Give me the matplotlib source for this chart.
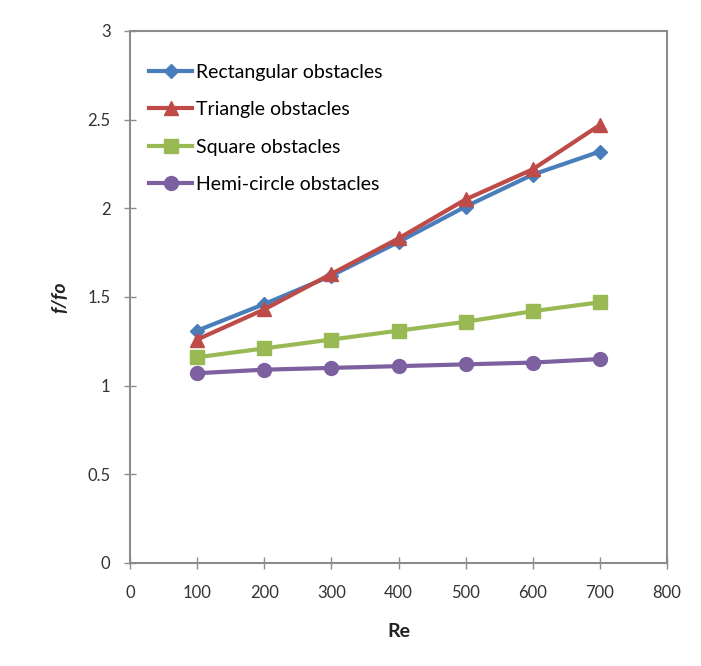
import matplotlib.pyplot as plt

# friction factor ratio vs Reynolds number for each obstacle shape
re = [100, 200, 300, 400, 500, 600, 700]
rect = [1.31, 1.46, 1.62, 1.81, 2.01, 2.19, 2.32]
triangle = [1.26, 1.43, 1.63, 1.83, 2.05, 2.22, 2.47]
square = [1.16, 1.21, 1.26, 1.31, 1.36, 1.42, 1.47]
hemi = [1.07, 1.09, 1.10, 1.11, 1.12, 1.13, 1.15]

labels = ['Rectangular obstacles', 'Triangle obstacles',
          'Square obstacles', 'Hemi-circle obstacles']
xticks = [0, 100, 200, 300, 400, 500, 600, 700, 800]
yticks = [0, 0.5, 1, 1.5, 2, 2.5, 3]

plt.rcParams['font.family'] = ['Lato', 'DejaVu Sans']

fig = plt.figure(figsize=(7.01, 6.66), dpi=100)
ax = fig.add_axes([0.1855, 0.1547, 0.766, 0.7988])

ax.plot(re, rect, color='#4A7EBB', lw=3, marker='D', ms=7, label=labels[0])
ax.plot(re, triangle, color='#BE4B48', lw=3, marker='^', ms=10, label=labels[1])
ax.plot(re, square, color='#98B954', lw=3, marker='s', ms=10, label=labels[2])
ax.plot(re, hemi, color='#7D60A0', lw=3, marker='o', ms=10, label=labels[3])

ax.set_xlim(0, 800)
ax.set_ylim(0, 3)
ax.set_xticks(xticks)
ax.set_yticks(yticks)
ax.set_yticklabels(['0', '0.5', '1', '1.5', '2', '2.5', '3'])

for s in ax.spines.values():
    s.set_color('#8c8c8c')
    s.set_linewidth(1.5)
ax.tick_params(colors='#8c8c8c', labelcolor='#333333', labelsize=12,
               direction='inout', length=8, width=1)
ax.tick_params(axis='x', pad=12)
ax.tick_params(axis='y', pad=10)

ax.set_xlabel('Re', fontsize=14, fontweight='bold', color='#222222', labelpad=16)
ax.set_ylabel('f/fo', fontsize=14, fontweight='bold', style='italic',
              color='#222222', labelpad=14)

ax.legend(loc='upper left', frameon=False, fontsize=14, handlelength=2.2,
          handletextpad=0.2, labelspacing=1.05, borderaxespad=0.6,
          bbox_to_anchor=(0.0, 0.975))

fig.savefig('out.png', dpi=100, facecolor='white')
